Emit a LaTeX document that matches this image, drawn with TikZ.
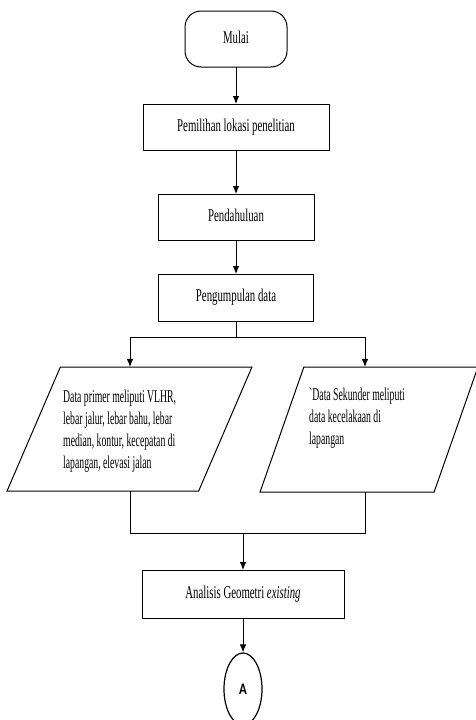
\documentclass[tikz,border=0pt]{standalone}
\usepackage{fontspec}
\setmainfont{Liberation Serif}
\newfontfamily\hurufA{Carlito}
\usepackage{tikz}
\usetikzlibrary{arrows.meta,shapes.geometric}
\newcommand{\sempit}[2][0.6]{\scalebox{#1}[1]{\begin{tabular}{@{}l@{}}#2\end{tabular}}}

\begin{document}
\begin{tikzpicture}[x=1pt,y=-1pt]
%\tikzstyle{proses} = [draw, minimum width=150pt]
\tikzstyle{proses} = [draw, line width=1pt, inner sep=0pt, outer sep=0pt, minimum height=46pt, font=\fontsize{18}{22}\selectfont]
\tikzstyle{terminal} = [proses, rounded corners=16pt, minimum width=102pt, minimum height=56pt]
\tikzstyle{masukan} = [draw, line width=1pt, trapezium, trapezium stretches=true, trapezium left angle=68, trapezium right angle=112, minimum height=124pt, inner sep=2pt, outer sep=0pt]
\tikzstyle{isi} = [anchor=north west, inner sep=0pt, font=\fontsize{18}{22}\selectfont]
\tikzstyle{panah} = [-{Latex[length=8pt,width=6.5pt]}, line width=0.9pt]
\tikzstyle{garis} = [line width=0.9pt]
\useasboundingbox (0,0) rectangle (476,720);

\node[terminal] (mulai) at (236,39) {\sempit{Mulai}};
\node[proses, minimum width=186pt] (lokasi) at (236,127) {\sempit{Pemilihan lokasi penelitian}};
\node[proses, minimum width=156pt] (pendahuluan) at (236,217) {\sempit{Pendahuluan}};
\node[proses, minimum width=155pt, minimum height=47pt] (kumpul) at (236,297.5) {\sempit{Pengumpulan data}};

\node[masukan, minimum width=245pt] (primer) at (129.5,429) {\phantom{x}};
\node[masukan, minimum width=218pt, minimum height=125pt, trapezium left angle=70.6, trapezium right angle=109.4] (sekunder) at (369,429.5) {\phantom{x}};
\node[isi] (tprimer) at (63,387) {\sempit[0.54]{Data primer meliputi VLHR,\\lebar jalur, lebar bahu, lebar\\median, kontur, kecepatan di\\lapangan, elevasi jalan}};
\node[isi] (tsekunder) at (309,385) {\sempit[0.54]{\textasciigrave Data Sekunder meliputi\\data kecelakaan di\\lapangan}};

\node[proses, minimum width=202pt, minimum height=48pt] (analisis) at (243,594) {\sempit{Analisis Geometri \textit{existing}}};
\node[draw, ellipse, line width=1.2pt, minimum width=38pt, minimum height=72pt, inner sep=0pt] (konA) at (243,689) {\scalebox{0.8}[1]{\hurufA\bfseries\fontsize{16}{16}\selectfont A}};

% cabang ke data primer dan sekunder
\coordinate (cabang) at (236,337);
\coordinate (cabangkiri) at (130,337);
\coordinate (cabangkanan) at (365,337);
\coordinate (gabungkiri) at (130,533);
\coordinate (gabungkanan) at (365,533);
\coordinate (gabung) at (243,533);

\draw[panah] (mulai) -- (lokasi);
\draw[panah] (lokasi) -- (pendahuluan);
\draw[panah] (pendahuluan) -- (kumpul);
\draw[garis] (kumpul) -- (cabang);
\draw[garis] (cabangkiri) -- (cabangkanan);
\draw[panah] (cabangkiri) -- (cabangkiri |- primer.north);
\draw[panah] (cabangkanan) -- (cabangkanan |- sekunder.north);
\draw[garis] (cabangkiri |- primer.south) -- (gabungkiri) -- (gabungkanan) -- (cabangkanan |- sekunder.south);
\draw[panah] (gabung) -- (analisis);
\draw[panah] (analisis) -- (konA);
\end{tikzpicture}
\end{document}
